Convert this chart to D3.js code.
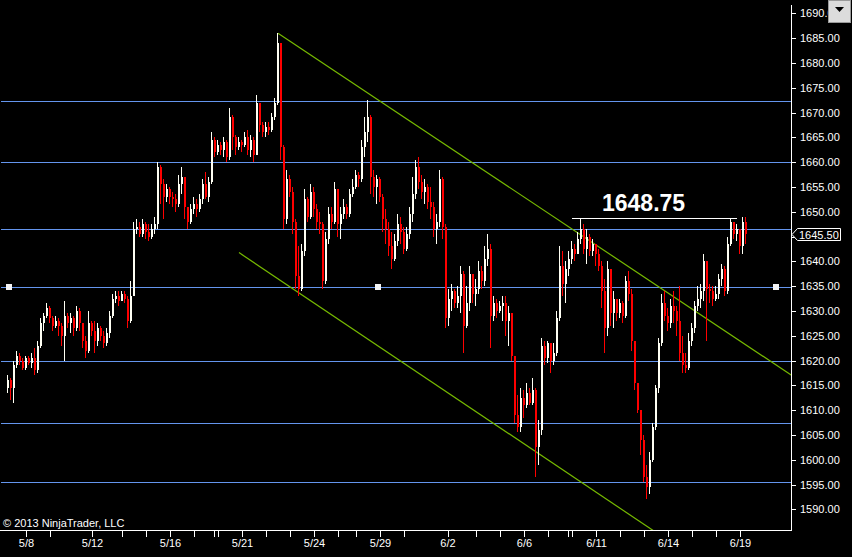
<!DOCTYPE html>
<html>
<head>
<meta charset="utf-8">
<script src="https://cdn.jsdelivr.net/npm/d3@7/dist/d3.min.js"></script>
<style>
html,body{margin:0;padding:0;background:#000;overflow:hidden;}
svg{display:block;}
</style>
</head>
<body>
<svg id="chart" width="852" height="557"></svg>
<script>

// --------------------------------
// price bars (open = previous close)
// --------------------------------

var firstOpen = 1614.5;

var closes = [
	1616.0,1614.5,1619.0,1621.0,1620.0,1618.5,1620.5,1619.5,1620.5,1618.0,
	1623.0,1627.5,1629.0,1630.5,1628.5,1627.0,1628.0,1627.0,1625.0,1629.0,
	1627.5,1628.5,1626.5,1630.0,1627.5,1624.0,1622.0,1627.5,1626.0,1624.0,
	1626.5,1625.0,1623.5,1625.5,1629.0,1632.5,1633.0,1632.0,1633.5,1632.5,
	1628.0,1633.0,1646.5,1647.0,1645.5,1647.5,1646.0,1645.0,1646.5,1647.5,
	1659.0,1655.5,1653.0,1654.5,1653.0,1652.5,1651.5,1655.5,1657.0,1651.0,
	1648.0,1650.5,1651.5,1650.5,1652.5,1655.5,1653.0,1656.0,1664.5,1662.0,
	1663.5,1662.5,1664.0,1661.0,1669.0,1665.0,1663.0,1664.0,1663.5,1665.0,
	1662.5,1664.5,1661.5,1672.0,1667.5,1666.0,1667.0,1666.5,1669.0,1672.0,
	1684.0,1663.0,1648.5,1656.5,1654.0,1648.0,1637.0,1634.5,1642.0,1652.5,
	1649.0,1654.0,1650.5,1648.0,1647.5,1636.0,1644.5,1649.5,1648.0,1654.5,
	1647.5,1649.5,1651.0,1649.5,1653.5,1655.0,1657.5,1656.5,1663.0,1666.0,
	1669.0,1657.0,1655.0,1656.5,1653.0,1648.5,1646.5,1643.0,1640.5,1644.0,
	1647.5,1646.0,1642.5,1645.5,1649.5,1653.5,1659.0,1656.0,1654.0,1655.0,
	1652.0,1651.0,1646.5,1648.0,1656.5,1647.0,1628.5,1632.5,1634.0,1631.5,
	1633.0,1637.5,1627.0,1631.5,1637.5,1633.5,1634.5,1638.0,1636.0,1640.5,
	1642.5,1629.0,1631.5,1630.0,1631.0,1631.5,1628.0,1629.5,1621.0,1609.0,
	1606.5,1612.5,1611.0,1613.5,1611.5,1614.0,1602.5,1606.0,1623.0,1620.5,
	1623.5,1620.0,1621.5,1628.5,1639.0,1635.5,1638.5,1640.5,1642.5,1641.5,
	1644.5,1646.5,1642.5,1645.0,1642.0,1643.5,1641.5,1639.0,1634.0,1626.5,
	1638.5,1629.5,1632.5,1629.5,1631.5,1629.0,1636.0,1633.5,1624.0,1615.5,
	1610.0,1604.0,1596.5,1594.5,1600.0,1606.5,1614.5,1623.5,1631.5,1629.0,
	1627.5,1631.0,1630.0,1628.0,1621.5,1619.0,1618.5,1624.0,1626.5,1631.0,
	1632.5,1634.0,1640.0,1634.5,1634.0,1632.5,1633.5,1636.5,1638.5,1634.0,
	1643.5,1648.0,1645.5,1646.5,1643.0,1648.0,1645.5
];

var highs = [
	1617.0,1616.5,1620.0,1622.0,1621.5,1620.5,1621.0,1621.0,1621.5,1622.5,
	1624.0,1628.5,1629.5,1631.5,1631.0,1629.0,1629.0,1628.5,1627.5,1632.0,
	1629.5,1629.5,1629.0,1631.0,1630.5,1627.5,1625.0,1630.0,1628.0,1628.0,
	1627.5,1627.0,1626.0,1626.5,1630.0,1633.5,1634.0,1634.0,1634.0,1634.0,
	1633.0,1636.0,1648.0,1648.5,1648.0,1648.5,1648.0,1647.5,1647.5,1649.0,
	1660.0,1659.5,1656.5,1655.5,1655.0,1654.0,1653.5,1657.5,1659.0,1657.0,
	1651.0,1651.5,1653.0,1652.5,1653.5,1656.5,1658.0,1657.0,1666.0,1665.0,
	1664.5,1664.0,1665.0,1664.5,1671.0,1669.5,1665.5,1665.0,1664.5,1666.0,
	1666.5,1665.5,1665.0,1673.5,1672.0,1668.0,1668.0,1668.0,1670.0,1673.0,
	1686.0,1684.0,1663.5,1658.5,1657.5,1655.0,1648.5,1643.0,1643.5,1654.5,
	1653.0,1655.5,1655.0,1651.5,1650.0,1648.0,1646.0,1651.0,1651.0,1656.0,
	1654.0,1651.0,1652.5,1651.5,1654.5,1656.5,1658.5,1658.0,1664.5,1669.0,
	1672.5,1669.5,1658.5,1657.5,1657.0,1653.5,1650.5,1648.0,1646.0,1645.5,
	1649.5,1649.0,1647.0,1647.0,1651.0,1657.0,1660.5,1661.0,1657.5,1656.5,
	1655.5,1655.0,1652.0,1649.5,1658.5,1657.0,1647.5,1634.5,1635.5,1634.5,
	1635.0,1639.0,1638.0,1635.0,1639.0,1637.5,1636.5,1640.0,1639.0,1643.0,
	1645.5,1643.5,1633.0,1632.5,1632.0,1633.0,1633.0,1631.0,1629.5,1621.0,
	1613.0,1614.5,1614.0,1615.5,1614.5,1616.5,1614.5,1608.0,1624.5,1624.0,
	1624.0,1623.5,1623.5,1630.0,1643.0,1642.0,1640.0,1642.0,1644.0,1643.5,
	1646.0,1648.75,1647.5,1646.5,1645.5,1644.5,1643.5,1642.5,1640.0,1636.5,
	1640.0,1638.0,1634.0,1632.0,1632.5,1632.0,1637.0,1638.0,1634.5,1624.0,
	1615.0,1610.0,1605.0,1599.0,1601.5,1607.5,1615.0,1624.5,1633.5,1634.0,
	1630.5,1632.5,1634.0,1631.0,1635.0,1625.0,1621.5,1625.5,1627.5,1632.0,
	1635.0,1635.5,1641.5,1640.0,1635.5,1635.0,1635.0,1637.5,1639.5,1639.0,
	1645.0,1648.75,1648.0,1647.5,1646.5,1649.0,1649.0
];

var lows = [
	1613.5,1612.0,1611.5,1618.5,1619.0,1618.0,1618.0,1619.0,1618.5,1617.0,
	1617.5,1622.5,1626.0,1628.5,1627.5,1626.0,1626.5,1625.0,1623.0,1620.0,
	1626.5,1625.5,1625.0,1626.0,1626.0,1622.5,1620.5,1621.5,1625.0,1621.5,
	1623.0,1624.0,1622.5,1623.0,1624.5,1628.5,1631.5,1631.0,1632.0,1631.5,
	1626.5,1627.5,1633.0,1645.5,1645.0,1645.0,1644.5,1644.0,1644.5,1645.5,
	1646.5,1651.5,1648.5,1652.0,1651.5,1651.0,1650.0,1651.0,1653.5,1648.5,
	1646.5,1647.5,1649.5,1649.0,1650.0,1651.5,1652.5,1652.0,1655.5,1661.0,
	1661.5,1661.5,1661.0,1660.0,1660.5,1662.5,1661.5,1662.5,1662.0,1663.0,
	1661.5,1661.0,1660.0,1661.5,1666.0,1665.0,1665.0,1665.5,1666.0,1668.5,
	1671.5,1660.5,1646.5,1647.5,1653.0,1645.5,1634.5,1633.0,1634.0,1641.0,
	1648.0,1648.5,1649.0,1646.5,1645.5,1634.5,1635.5,1643.5,1646.5,1647.5,
	1645.0,1644.5,1648.5,1648.5,1649.0,1653.0,1654.5,1655.0,1656.0,1661.0,
	1664.0,1653.5,1653.0,1651.5,1652.0,1646.0,1643.5,1641.0,1638.5,1640.0,
	1643.0,1643.5,1641.5,1642.0,1644.5,1648.0,1652.5,1654.5,1652.5,1651.5,
	1650.5,1648.5,1645.0,1643.5,1647.0,1644.5,1626.5,1627.0,1630.0,1630.5,
	1630.5,1629.5,1621.5,1626.5,1630.0,1631.5,1631.0,1633.5,1634.5,1635.0,
	1639.0,1622.5,1628.0,1628.5,1629.5,1628.0,1625.0,1623.0,1620.0,1607.5,
	1605.5,1605.5,1608.5,1610.5,1611.0,1611.0,1596.5,1599.0,1605.0,1619.0,
	1619.5,1617.5,1619.0,1621.0,1628.0,1633.0,1631.5,1637.0,1639.5,1640.0,
	1641.5,1643.5,1641.5,1639.5,1641.0,1641.0,1639.0,1638.0,1630.5,1621.5,
	1625.0,1627.0,1626.5,1628.0,1628.5,1627.5,1628.5,1632.0,1622.0,1614.0,
	1609.5,1601.0,1595.5,1592.0,1593.0,1599.5,1606.0,1613.5,1623.0,1628.0,
	1626.0,1626.5,1627.5,1625.0,1620.0,1617.5,1617.5,1618.0,1623.0,1625.5,
	1630.0,1630.5,1632.0,1624.0,1631.5,1631.0,1632.0,1632.5,1635.0,1633.0,
	1633.5,1643.0,1644.5,1644.0,1641.5,1641.5,1643.5
];

// --------------------------------
// axis ticks
// --------------------------------

var dayTickBars = [6,14,28,38,46,54,62,68.5,70,78,86,94,102,110,116,124,132,
	146.5,156,164,172,180,186.5,188,196,204,212,220,228,236,244];
var dayTickLabels = ["5/8","","5/12","","","5/16","","","","5/21","","","5/24","","","5/29","",
	"6/2","","","6/6","","","","6/11","","","6/14","","","6/19"];

var priceTicks = [1590,1595,1600,1605,1610,1615,1620,1625,1630,1635,1640,
	1645,1650,1655,1660,1665,1670,1675,1680,1685,1690];

// --------------------------------
// drawing objects
// --------------------------------

var levelLines = [1672.25,1660,1646.5,1634.75,1620,1607.5,1595.5];
var selectedLevel = 1634.75;
var selectedHandleBars = [0.33,123.3,256];
var trendUpper = [[90,1686],[260,1617.5]];
var trendLower = [[77,1641.75],[215,1585.75]];
var markerLevel = 1648.75;
var markerBars = [188,243];
var markerText = "1648.75";
var lastPrice = 1645.50;

// --------------------------------
// layout
// --------------------------------

var W = 852, H = 557;
var plotRight = 791.5, plotBottom = 530.5;
var szFont = "'Liberation Sans',Arial,sans-serif";
var upColor = "#fffff4", downColor = "#ff0000", lineBlue = "#6495ed", trendColor = "#76b900";

var svg = d3.select("#chart");

svg.append("rect")
	.attr("width", W)
	.attr("height", H)
	.attr("fill", "#000");

var x = d3.scaleLinear().domain([0, 246]).range([8, 746]);
var y = d3.scaleLinear().domain([1590, 1690]).range([509.3, 13.3]);

svg.append("clipPath").attr("id", "plotClip")
	.append("rect")
	.attr("x", 0).attr("y", 0)
	.attr("width", plotRight).attr("height", plotBottom);

var plot = svg.append("g").attr("clip-path", "url(#plotClip)");

// horizontal level lines
// ----------------------
plot.selectAll("line.level")
	.data(levelLines)
	.enter().append("line")
	.attr("class", "level")
	.attr("x1", 1)
	.attr("x2", plotRight)
	.attr("y1", function(d){ return Math.round(y(d)) + 0.5; })
	.attr("y2", function(d){ return Math.round(y(d)) + 0.5; })
	.attr("style", "stroke:" + lineBlue + ";stroke-width:1;shape-rendering:crispEdges");

// trend lines, extended to the right edge
// ---------------------------------------
function extendLine(a){
	var nSlope = (a[1][1] - a[0][1]) / (a[1][0] - a[0][0]);
	var nEnd = x.invert(plotRight);
	return [a[0], [nEnd, a[0][1] + nSlope * (nEnd - a[0][0])]];
}
[trendUpper, trendLower].forEach(function(a){
	var p = extendLine(a);
	plot.append("line")
		.attr("x1", x(p[0][0])).attr("y1", y(p[0][1]))
		.attr("x2", x(p[1][0])).attr("y2", y(p[1][1]))
		.attr("style", "stroke:" + trendColor + ";stroke-width:1.2");
});

// candles
// -------
var bars = closes.map(function(c, i){
	var o = i ? closes[i-1] : firstOpen;
	return {
		i: i, o: o, c: c,
		h: Math.max(highs[i], o, c),
		l: Math.min(lows[i], o, c)
	};
});

var gBars = plot.append("g").attr("shape-rendering", "crispEdges");

gBars.selectAll("rect.wick")
	.data(bars)
	.enter().append("rect")
	.attr("class", "wick")
	.attr("x", function(d){ return Math.round(x(d.i)) - 1; })
	.attr("width", 1)
	.attr("y", function(d){ return y(d.h); })
	.attr("height", function(d){ return Math.max(1, y(d.l) - y(d.h)); })
	.attr("fill", function(d){ return d.c >= d.o ? upColor : downColor; });

gBars.selectAll("rect.body")
	.data(bars)
	.enter().append("rect")
	.attr("class", "body")
	.attr("x", function(d){ return Math.round(x(d.i)) - 1; })
	.attr("width", 2)
	.attr("y", function(d){ return y(Math.max(d.o, d.c)); })
	.attr("height", function(d){ return Math.max(1, Math.abs(y(d.o) - y(d.c))); })
	.attr("fill", function(d){ return d.c >= d.o ? upColor : downColor; });

// handles of the selected level line
// ----------------------------------
plot.selectAll("rect.handle")
	.data(selectedHandleBars)
	.enter().append("rect")
	.attr("class", "handle")
	.attr("x", function(d){ return Math.round(x(d)) - 3; })
	.attr("y", Math.round(y(selectedLevel)) - 3)
	.attr("width", 6)
	.attr("height", 6)
	.attr("fill", "#f4f4f4");

// high marker line with label
// ---------------------------
plot.append("line")
	.attr("x1", x(markerBars[0])).attr("x2", x(markerBars[1]))
	.attr("y1", Math.round(y(markerLevel)) + 0.5).attr("y2", Math.round(y(markerLevel)) + 0.5)
	.attr("style", "stroke:#ffffff;stroke-width:1;shape-rendering:crispEdges");

plot.append("text")
	.attr("x", x(markerBars[0]) + 30)
	.attr("y", y(markerLevel) - 7)
	.attr("style", "font-family:" + szFont + ";font-size:23px;font-weight:bold;fill:#ffffff")
	.text(markerText);

// copyright
// ---------
svg.append("text")
	.attr("x", 3)
	.attr("y", 527)
	.attr("style", "font-family:" + szFont + ";font-size:11px;fill:#ffffff")
	.text("\u00a9 2013 NinjaTrader, LLC");

// axes
// ----
var xAxis = d3.axisBottom(x)
	.tickValues(dayTickBars)
	.tickSize(6)
	.tickSizeOuter(0)
	.tickPadding(3)
	.tickFormat(function(d, i){ return dayTickLabels[i]; });

var gx = svg.append("g")
	.attr("transform", "translate(0," + plotBottom + ")")
	.attr("color", "#ffffff")
	.attr("shape-rendering", "crispEdges")
	.call(xAxis);
gx.select(".domain").remove();
gx.selectAll("text").attr("style", "font-family:" + szFont + ";font-size:11px;fill:#ffffff");

var yAxis = d3.axisRight(y)
	.tickValues(priceTicks)
	.tickSize(4)
	.tickSizeOuter(0)
	.tickPadding(4.5)
	.tickFormat(d3.format(".2f"));

var gy = svg.append("g")
	.attr("transform", "translate(" + plotRight + ",0)")
	.attr("color", "#ffffff")
	.attr("shape-rendering", "crispEdges")
	.call(yAxis);
gy.select(".domain").remove();
gy.selectAll("text")
	.attr("style", "font-family:" + szFont + ";font-size:11px;fill:#ffffff")
	.attr("opacity", function(d){ return Math.abs(y(d) - y(lastPrice)) < 8 ? 0 : 1; });

svg.append("line")
	.attr("x1", 0).attr("x2", plotRight)
	.attr("y1", plotBottom).attr("y2", plotBottom)
	.attr("style", "stroke:#ffffff;stroke-width:1;shape-rendering:crispEdges");
svg.append("line")
	.attr("x1", plotRight).attr("x2", plotRight)
	.attr("y1", 5).attr("y2", plotBottom)
	.attr("style", "stroke:#ffffff;stroke-width:1;shape-rendering:crispEdges");

// last price marker
// -----------------
var yl = Math.round(y(lastPrice)) + 0.5;
svg.append("path")
	.attr("d", "M" + (plotRight + 0.5) + "," + yl +
		" L" + (plotRight + 6) + "," + (yl - 6) +
		" L840.5," + (yl - 6) +
		" L840.5," + (yl + 6) +
		" L" + (plotRight + 6) + "," + (yl + 6) + " Z")
	.attr("style", "fill:#000;stroke:#ffffff;stroke-width:1");
svg.append("text")
	.attr("x", 799)
	.attr("y", yl + 4)
	.attr("style", "font-family:" + szFont + ";font-size:11px;fill:#ffffff")
	.text(d3.format(".2f")(lastPrice));

// scroll button (top right)
// -------------------------
var gBtn = svg.append("g").attr("transform", "translate(828,0)");
gBtn.append("rect")
	.attr("x", 0.5).attr("y", 0.5)
	.attr("width", 22).attr("height", 22)
	.attr("style", "fill:#dcdcdc;stroke:#9a9a9a;stroke-width:1");
gBtn.append("path")
	.attr("d", "M7,7 L16,7 L11.5,12 Z")
	.attr("fill", "#000");

</script>
</body>
</html>
